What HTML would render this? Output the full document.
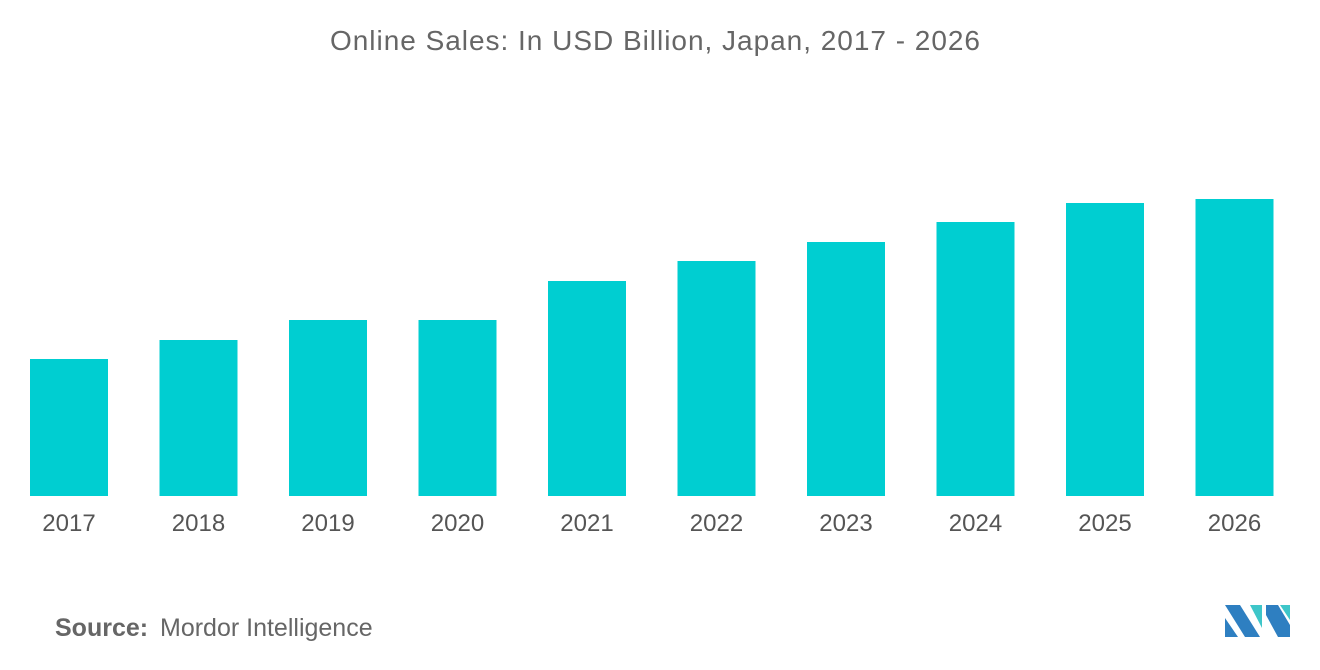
<!DOCTYPE html>
<html><head><meta charset="utf-8"><style>
body{margin:0;width:1320px;height:665px;background:#fff;font-family:"Liberation Sans",sans-serif;overflow:hidden}
</style></head><body>
<svg width="1320" height="665">
<text x="655" y="50" text-anchor="middle" font-size="28" fill="#666" textLength="650">Online Sales: In USD Billion, Japan, 2017 - 2026</text>
<g id="bars"></g>
<g id="labels"></g>
<text x="55" y="636" font-size="25" fill="#666" font-weight="bold">Source:</text>
<text x="160" y="636" font-size="25" fill="#666">Mordor Intelligence</text>
<g>
<polygon points="1225,605 1240,605 1260,637 1245,637" fill="#2e7fc1"/>
<polygon points="1225,618 1225,637 1238,637" fill="#2e7fc1"/>
<polygon points="1250,605 1262,605 1262,628" fill="#3ec6c9"/>
<polygon points="1266,605 1278,605 1290,625 1290,637 1278,637 1266,615" fill="#2e7fc1"/>
<polygon points="1280,605 1290,605 1290,620" fill="#3ec6c9"/>
</g>
</svg>
<script>
const categories=["2017","2018","2019","2020","2021","2022","2023","2024","2025","2026"];
const values=[137,156,176,176,215,235,254,274,293,297];
const baseY=496, scale=1.0, x0=30, pitch=129.5, bw=78;
function xPos(i){return x0+i*pitch;}
function yPos(v){return baseY-v*scale;}
const ns="http://www.w3.org/2000/svg";
const bars=document.getElementById('bars'), labels=document.getElementById('labels');
categories.forEach((c,i)=>{
  const r=document.createElementNS(ns,'rect');
  r.setAttribute('x',xPos(i));r.setAttribute('y',yPos(values[i]));
  r.setAttribute('width',bw);r.setAttribute('height',baseY-yPos(values[i]));
  r.setAttribute('fill','#00ced1');
  
  
  bars.appendChild(r);
  const t=document.createElementNS(ns,'text');
  t.setAttribute('x',xPos(i)+bw/2);t.setAttribute('y',531);
  t.setAttribute('text-anchor','middle');t.setAttribute('font-size','24');t.setAttribute('fill','#555');
  t.textContent=c;
  
  
  labels.appendChild(t);
});
</script>
</body></html>
